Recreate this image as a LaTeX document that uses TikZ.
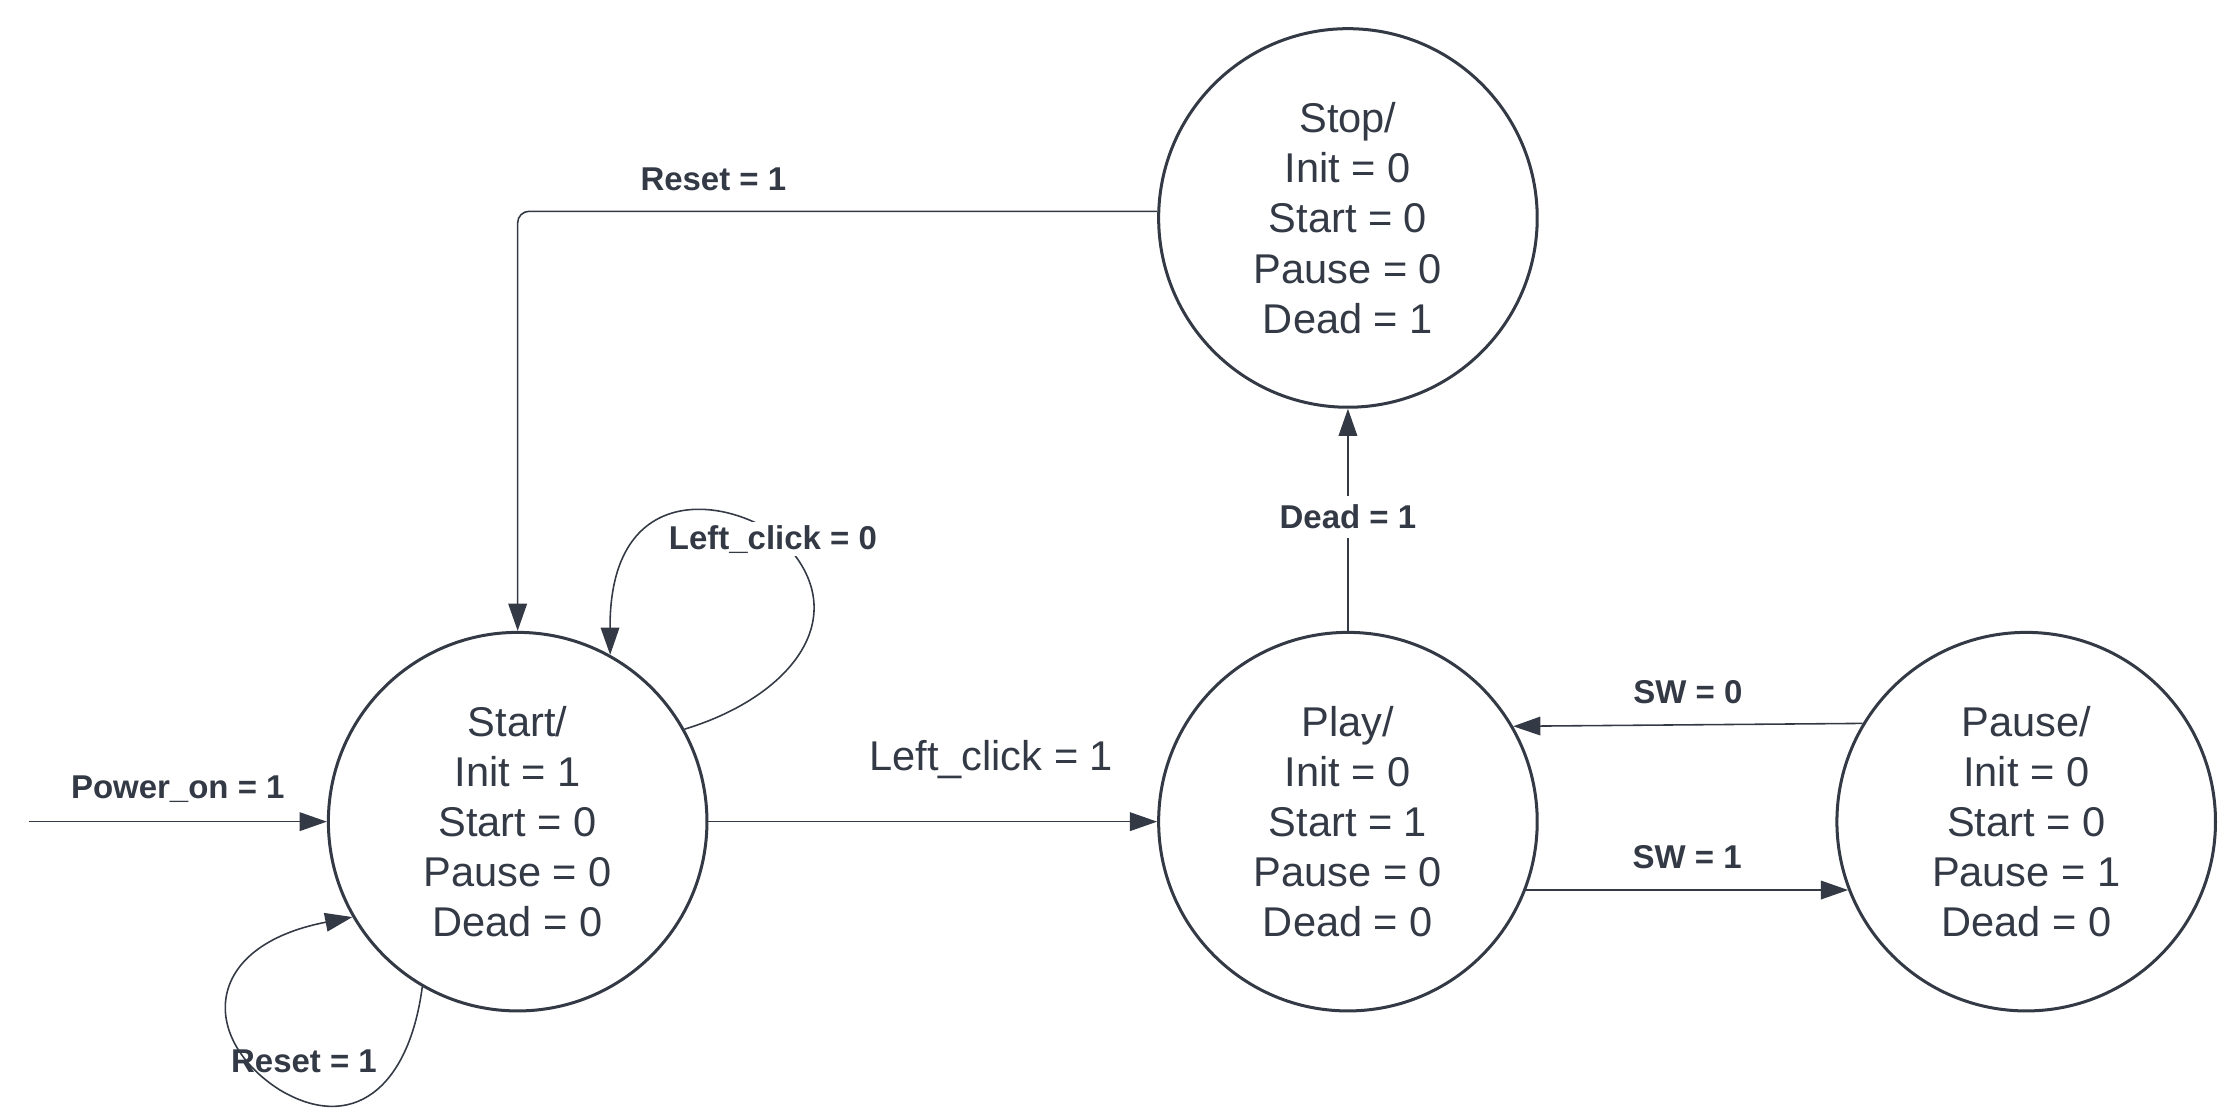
\documentclass[tikz,border=0pt]{standalone}
\usepackage{fontspec}
\setmainfont{Liberation Sans}
\usepackage{xcolor}
\usetikzlibrary{arrows.meta}

\definecolor{ink}{HTML}{333A45}

\tikzset{
	state/.style = {draw = ink, line width = 1.05pt, circle, minimum size = 132pt, inner sep = 0pt, align = center, text = ink, font = \fontsize{14.5}{17.5}\selectfont},
	trans/.style = {draw = ink, line width = 0.55pt, -{Triangle[length = 9.5pt, width = 6.5pt]}},
	cond/.style = {text = ink, inner sep = 1pt, font = \fontsize{11.5}{13}\selectfont\bfseries},
}

\begin{document}
\begin{tikzpicture}[x = 0.5pt, y = -0.5pt]
		%frame
		\useasboundingbox (0,0) rectangle (1560,780);

		%states
		\node [state] (start) at (361,573) {Start/\\Init = 1\\Start = 0\\Pause = 0\\Dead = 0};
		\node [state] (play) at (940,573) {Play/\\Init = 0\\Start = 1\\Pause = 0\\Dead = 0};
		\node [state] (stop) at (940,152) {Stop/\\Init = 0\\Start = 0\\Pause = 0\\Dead = 1};
		\node [state] (pause) at (1413,573) {Pause/\\Init = 0\\Start = 0\\Pause = 1\\Dead = 0};

		%power on
		\coordinate (pin) at (20,573);
		\draw [trans] (pin) -- (start.west) node [cond, midway, yshift = 11.5pt] {Power\_on = 1};

		%transitions
		\draw [trans] (start.east) -- (play.west) node [pos = 0.63, yshift = 21.5pt, text = ink, font = \fontsize{14.5}{17.5}\selectfont] {Left\_click = 1};

		\draw [trans] (play.north) -- (stop.south) node [cond, midway, fill = white, inner sep = 3pt, yshift = 1pt] {Dead = 1};

		\draw [trans, rounded corners = 4pt] (stop.178) -| (start.north) node [cond, pos = 0.347, yshift = 11pt] {Reset = 1};

		\draw [trans] (pause.149.5) -- (play.30.5) node [cond, midway, yshift = 11.5pt] {SW = 0};

		\draw [trans] (play.-21.3) -- (pause.201.3) node [cond, midway, yshift = 11.5pt] {SW = 1};

		%self loops
		\draw [trans] (start.29) .. controls (555,485) and (600,425) .. (540,372) .. controls (500,345) and (425,340) .. (start.61);
		\node [cond, fill = white] (lclick) at (539,376) {Left\_click = 0};

		\draw [trans] (start.240) .. controls (285,760) and (245,790) .. (195,760) .. controls (140,725) and (140,660) .. (start.210);
		\node [cond] (reset) at (212,740) {Reset = 1};
	\end{tikzpicture}
\end{document}
